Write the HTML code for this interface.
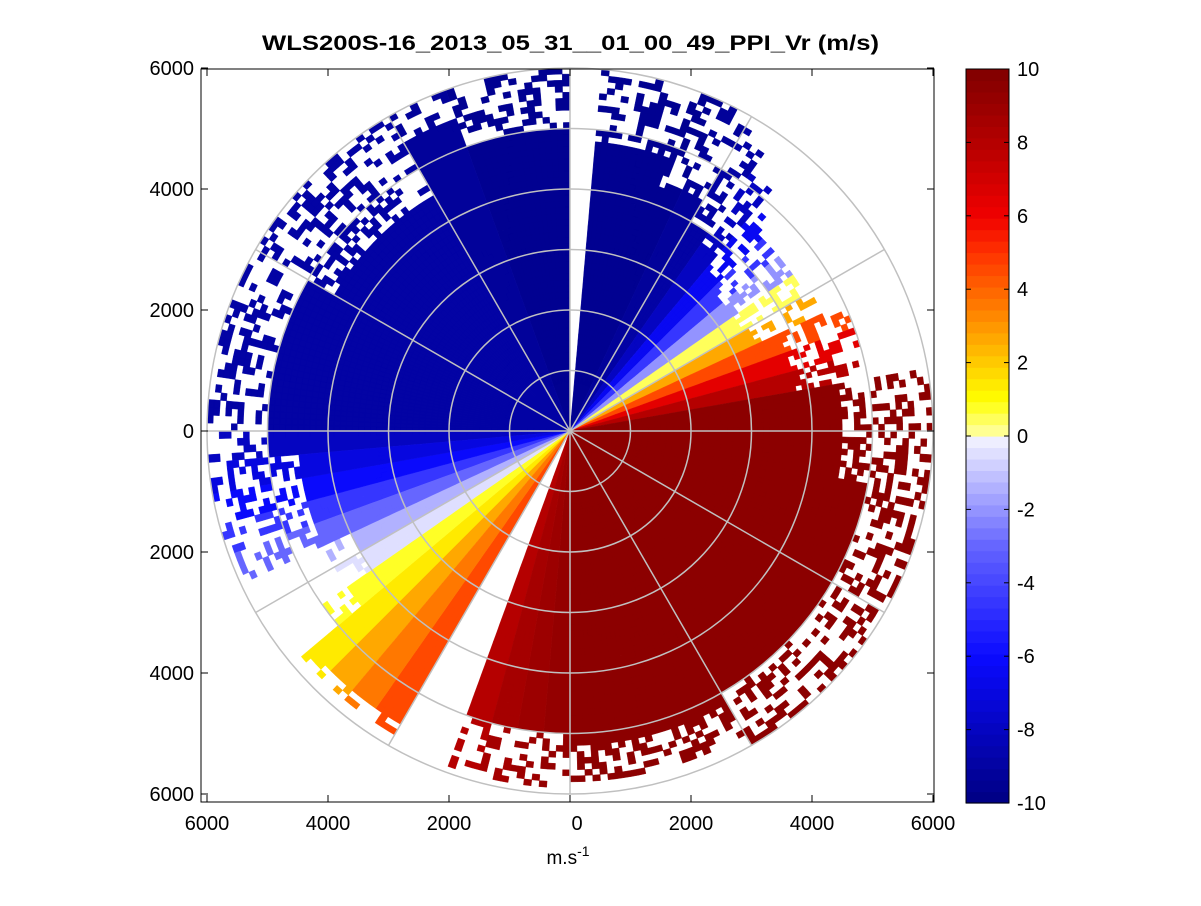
<!DOCTYPE html>
<html><head><meta charset="utf-8"><style>
body{margin:0;background:#fff;}
svg text{font-family:"Liberation Sans",sans-serif;fill:#000;}
</style></head><body>
<svg id="s" width="1201" height="901" viewBox="0 0 1201 901">
<rect width="1201" height="901" fill="#fff"/>
<g id="cells"></g>
<g id="grid"></g>
<rect x="201" y="69" width="733" height="733" fill="none" stroke="#000" stroke-width="1"/>
<g id="ticks"></g>
<text x="262" y="50" textLength="617" lengthAdjust="spacingAndGlyphs" font-size="21" font-weight="bold">WLS200S-16_2013_05_31__01_00_49_PPI_Vr (m/s)</text>
<text x="568" y="864" text-anchor="middle" font-size="19">m.s<tspan dy="-8" font-size="14">-1</tspan></text>
<g id="cbar"></g>
</svg>
<script>
const NS='http://www.w3.org/2000/svg';
// Sector data: sector i spans azimuth [5i, 5i+5] degrees clockwise from north
const sectorVr=[-9.5,-9.5,-9.5,-9.5,-9.5,-9.3,-9,-8,-6.5,-4.5,-2,0.5,2.5,4.5,6.5,8,
9.5,9.5,9.5,9.5,9.5,9.5,9.5,9.5,9.5,9.5,9.5,9.5,9.5,9.5,9.5,9.5,9.5,9.5,9.5,9.5,
9.3,9,8.5,8,0,0,4.5,3.5,2.5,1.5,0.7,-0.5,-1.5,-3,-4.5,-6,-7,-8,
-9,-9,-8.8,-8.8,-8.8,-9,-9,-9,-9,-9,-9,-9,-9.2,-9.3,-9.4,-9.5,-9.5,-9.5];
const solidRange=[0,4800,4800,4800,4300,4300,4000,3800,3500,3300,3300,3300,3300,3800,3800,3800,
4500,4500,4500,4500,5000,5000,5000,5000,5000,5000,5000,5000,5000,5000,5200,5200,5200,5200,5200,5200,
5000,5000,5000,5000,0,0,5600,5600,5600,5600,4500,4000,4000,4500,4500,4500,4500,5000,
5000,5000,5000,5000,5000,5000,4500,4500,4500,4500,4500,4500,5500,5500,5000,5000,5000,5000];
const maxRange=[0,6000,6000,6000,6000,6000,5800,5200,4800,4500,4500,4600,4600,5000,5000,5000,
6000,6000,6000,6000,6000,6000,6000,6000,6000,6000,6000,6000,6000,6000,5800,5800,5800,5800,5800,5800,
5900,5900,5900,5900,0,0,5800,5800,5800,5800,5000,4500,4500,6000,6000,6000,6000,6000,
6000,6000,6000,6000,6000,6000,6000,6000,6000,6000,6000,6000,6000,6000,6000,6000,6000,6000];
const axisTicks=[-6000,-4000,-2000,0,2000,4000,6000];
const axisTickLabels=['6000','4000','2000','0','2000','4000','6000'];
const cbarTicks=[-10,-8,-6,-4,-2,0,2,4,6,8,10];
const cbarTickLabels=['-10','-8','-6','-4','-2','0','2','4','6','8','10'];

const CX=570,CY=431,K=363/6000;
const xs=m=>CX+m*K, ys=m=>CY-m*K;
const stops=[[-10,[0,0,130]],[-6,[10,10,255]],[-3,[100,100,255]],[-0.01,[245,245,255]],[0.01,[255,255,170]],[1,[255,255,0]],[3,[255,150,0]],[5,[255,50,0]],[6,[240,0,0]],[8,[180,0,0]],[10,[128,0,0]]];
function color(v){
  v=Math.max(-10,Math.min(10,v));
  v=Math.floor((v+10)/20*64)/64*20-10+20/128;
  for(let i=1;i<stops.length;i++){if(v<=stops[i][0]){const a=stops[i-1],b=stops[i],t=(v-a[0])/(b[0]-a[0]);
    return 'rgb('+a[1].map((c,j)=>Math.round(c+(b[1][j]-c)*t)).join(',')+')';}}
  return 'rgb(128,0,0)';
}
function hash(a,b){let h=(a*374761393+b*668265263)|0;h=(h^(h>>>13))*1274126177|0;return ((h^(h>>>16))>>>0)/4294967296;}
const cells=document.getElementById('cells');
function pt(r,az){const a=az*Math.PI/180;return xs(r*Math.sin(a)).toFixed(1)+','+ys(r*Math.cos(a)).toFixed(1);}
let d={};
const SUB=4,SW=5/SUB;
for(let i=0;i<sectorVr.length;i++){
  for(let sub=0;sub<SUB;sub++){
    const a0=i*5+sub*SW,a1=a0+SW;
    for(let g=0;g*100+100<=maxRange[i];g++){
      const r0=g*100,r1=r0+100;
      if(r1>solidRange[i]&&hash(i*SUB+sub+7,g*3+1)>0.42)continue;
      const c=color(sectorVr[i]);
      (d[c]=d[c]||[]).push('M'+pt(r0,a0)+'L'+pt(r1,a0)+'L'+pt(r1,a1)+'L'+pt(r0,a1)+'Z');
    }
  }
}
for(const c in d){const p=document.createElementNS(NS,'path');
  p.setAttribute('d',d[c].join(''));p.setAttribute('fill',c);p.setAttribute('stroke',c);p.setAttribute('stroke-width','0.4');
  
  
  cells.appendChild(p);}
const grid=document.getElementById('grid');
for(let r=1000;r<=6000;r+=1000){const c=document.createElementNS(NS,'circle');
  c.setAttribute('cx',CX);c.setAttribute('cy',CY);c.setAttribute('r',r*K);c.setAttribute('fill','none');c.setAttribute('stroke','#c0c0c0');c.setAttribute('stroke-width','1.5');
  
  
  grid.appendChild(c);}
for(let a=0;a<360;a+=30){const l=document.createElementNS(NS,'line');const t=a*Math.PI/180;
  l.setAttribute('x1',CX);l.setAttribute('y1',CY);l.setAttribute('x2',xs(6000*Math.sin(t)));l.setAttribute('y2',ys(6000*Math.cos(t)));l.setAttribute('stroke','#c0c0c0');l.setAttribute('stroke-width','1.5');
  
  
  grid.appendChild(l);}
const tk=document.getElementById('ticks');
function line(x1,y1,x2,y2,p){const l=document.createElementNS(NS,'line');l.setAttribute('x1',x1);l.setAttribute('y1',y1);l.setAttribute('x2',x2);l.setAttribute('y2',y2);l.setAttribute('stroke','#000');p.appendChild(l);return l;}
function text(x,y,s,anchor,p,fs){const t=document.createElementNS(NS,'text');t.setAttribute('x',x);t.setAttribute('y',y);t.setAttribute('text-anchor',anchor);t.setAttribute('font-size',fs||20);t.textContent=s;p.appendChild(t);return t;}
axisTicks.forEach((v,i)=>{
  const x=xs(v),y=ys(v);
  let l=line(x,802,x,795,tk);
  l=line(x,69,x,76,tk);
  l=line(201,y,208,y,tk);
  l=line(934,y,927,y,tk);
  let t=text(x+(v===0?7:0),830,axisTickLabels[i],'middle',tk);
  
  
  t=text(194,y+7,axisTickLabels[i],'end',tk);
  
  
});
const cb=document.getElementById('cbar');
const CBX=966,CBW=43,CBT=69,CBB=803;
const cy=v=>CBB-(v+10)/20*(CBB-CBT);
for(let k=0;k<64;k++){const v0=-10+k*20/64,v1=v0+20/64;const r=document.createElementNS(NS,'rect');
  r.setAttribute('x',CBX);r.setAttribute('y',cy(v1));r.setAttribute('width',CBW);r.setAttribute('height',cy(v0)-cy(v1)+0.6);r.setAttribute('fill',color(v0+0.01));
  
  
  cb.appendChild(r);}
const fr=document.createElementNS(NS,'rect');fr.setAttribute('x',CBX);fr.setAttribute('y',CBT);fr.setAttribute('width',CBW);fr.setAttribute('height',CBB-CBT);fr.setAttribute('fill','none');fr.setAttribute('stroke','#000');


cb.appendChild(fr);
cbarTicks.forEach((v,i)=>{const y=cy(v);
  let l=line(CBX,y,CBX+5,y,cb);
  l=line(CBX+CBW,y,CBX+CBW-5,y,cb);
  const t=text(1017,y+7,cbarTickLabels[i],'start',cb);
  
  
});
</script>
</body></html>
